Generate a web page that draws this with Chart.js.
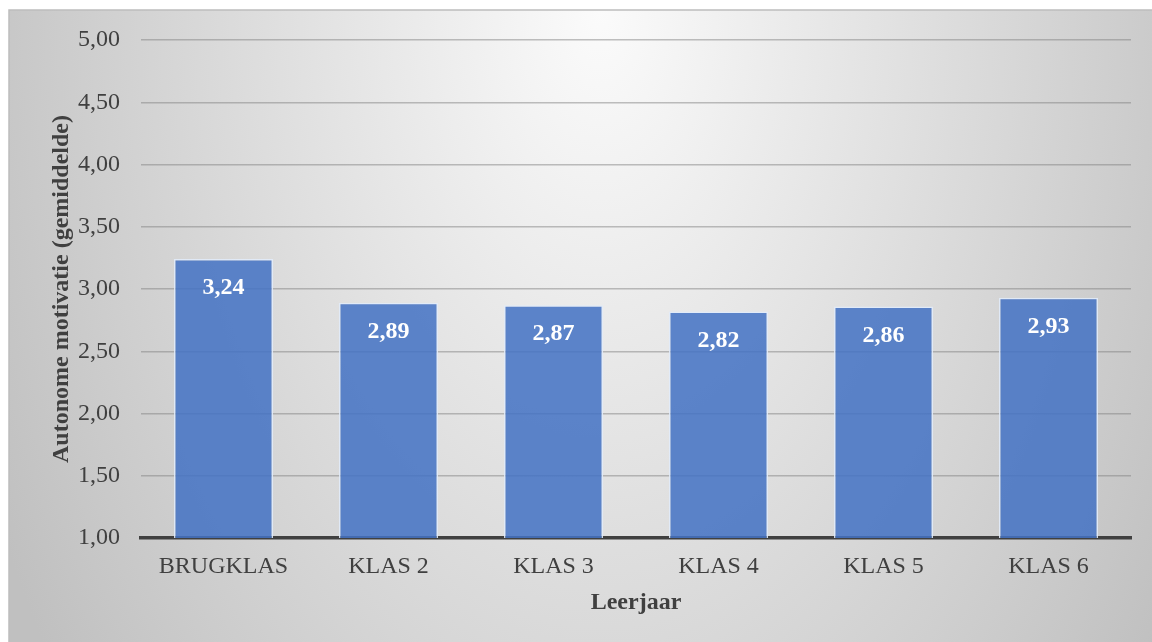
<!DOCTYPE html>
<html lang="nl">
<head>
<meta charset="utf-8">
<title>Autonome motivatie per leerjaar</title>
<script src="https://cdn.jsdelivr.net/npm/chart.js@4.4.1/dist/chart.umd.min.js"></script>
<style>
    html, body { margin: 0; padding: 0; background: #ffffff; }
    .chart-container { position: relative; width: 1152px; height: 642px; }
</style>
</head>
<body>
<div class="chart-container">
    <canvas id="motivatieChart"></canvas>
</div>
<script>
// gegevens uit de grafiek
const leerjaren = ['BRUGKLAS', 'KLAS 2', 'KLAS 3', 'KLAS 4', 'KLAS 5', 'KLAS 6'];
const gemiddelden = [3.24, 2.89, 2.87, 2.82, 2.86, 2.93];
const yTickWaarden = [1.00, 1.50, 2.00, 2.50, 3.00, 3.50, 4.00, 4.50, 5.00];

const FONT = "'Liberation Serif', 'Times New Roman', serif";
const TEKSTKLEUR = '#404040';

// komma als decimaalteken
const fmt = v => v.toFixed(2).replace('.', ',');

// achtergrond met radiaal verloop (zoals in Excel)
const achtergrondPlugin = {
    id: 'achtergrond',
    beforeDraw(chart) {
        const ctx = chart.ctx;
        const w = chart.width, h = chart.height;
        ctx.save();
        ctx.fillStyle = '#ffffff';
        ctx.fillRect(0, 0, w, h);

        const x0 = 9, y0 = 10;
        const k = 1075 / 663;
        ctx.translate(600, y0);
        ctx.scale(1, k);
        const grad = ctx.createRadialGradient(0, 0, 0, 0, 0, 680);
        grad.addColorStop(0, '#fbfbfb');
        grad.addColorStop(1, '#c0c0c0');
        ctx.fillStyle = grad;
        ctx.fillRect(x0 - 600, 0, w - x0, (h - y0) / k);
        ctx.restore();

        ctx.save();
        ctx.strokeStyle = '#bdbdbd';
        ctx.lineWidth = 1.5;
        ctx.beginPath();
        ctx.moveTo(x0, h);
        ctx.lineTo(x0, y0);
        ctx.lineTo(w, y0);
        ctx.stroke();
        ctx.restore();
    }
};

// waarden in de balken (bovenaan, wit, vet)
const labelPlugin = {
    id: 'balkLabels',
    afterDatasetsDraw(chart) {
        const ctx = chart.ctx;
        const meta = chart.getDatasetMeta(0);
        ctx.save();
        ctx.font = 'bold 24px ' + FONT;
        ctx.fillStyle = '#ffffff';
        ctx.textAlign = 'center';
        ctx.textBaseline = 'middle';
        meta.data.forEach((bar, i) => {
            ctx.fillText(fmt(gemiddelden[i]), bar.x, bar.y + 29);
        });
        ctx.restore();
    }
};

new Chart(document.getElementById('motivatieChart'), {
    type: 'bar',
    data: {
        labels: leerjaren,
        datasets: [{
            data: gemiddelden,
            backgroundColor: 'rgba(68, 114, 196, 0.86)',
            borderColor: 'rgba(225, 235, 250, 0.9)',
            borderWidth: 1.5,
            categoryPercentage: 1.0,
            barPercentage: 0.6
        }]
    },
    options: {
        responsive: true,
        maintainAspectRatio: false,
        animation: false,
        layout: {
            padding: { top: 40, right: 21, bottom: 0, left: 0 }
        },
        plugins: {
            legend: { display: false },
            tooltip: { enabled: false }
        },
        scales: {
            x: {
                z: 1,
                grid: { display: false, drawTicks: false },
                border: { display: true, color: '#404040', width: 3.5 },
                ticks: {
                    color: TEKSTKLEUR,
                    font: { family: FONT, size: 24 },
                    padding: 14,
                    maxRotation: 0
                },
                title: {
                    display: true,
                    text: 'Leerjaar',
                    color: TEKSTKLEUR,
                    font: { family: FONT, size: 24, weight: 'bold' },
                    padding: { top: 0, bottom: 25 }
                },
                afterFit(scale) { scale.height = 104; }
            },
            y: {
                min: 1,
                max: 5,
                grid: {
                    color: 'rgba(130, 130, 130, 0.5)',
                    lineWidth: 1.5,
                    drawTicks: false
                },
                border: { display: false },
                ticks: {
                    color: TEKSTKLEUR,
                    font: { family: FONT, size: 24 },
                    padding: 21,
                    callback: v => fmt(v)
                },
                afterBuildTicks(axis) {
                    axis.ticks = yTickWaarden.map(v => ({ value: v }));
                },
                title: {
                    display: true,
                    text: 'Autonome motivatie (gemiddelde)',
                    color: TEKSTKLEUR,
                    font: { family: FONT, size: 24, weight: 'bold' },
                    padding: { top: 47, bottom: 0 }
                },
                afterFit(scale) { scale.width = 141; }
            }
        }
    },
    plugins: [achtergrondPlugin, labelPlugin]
});
</script>
</body>
</html>
